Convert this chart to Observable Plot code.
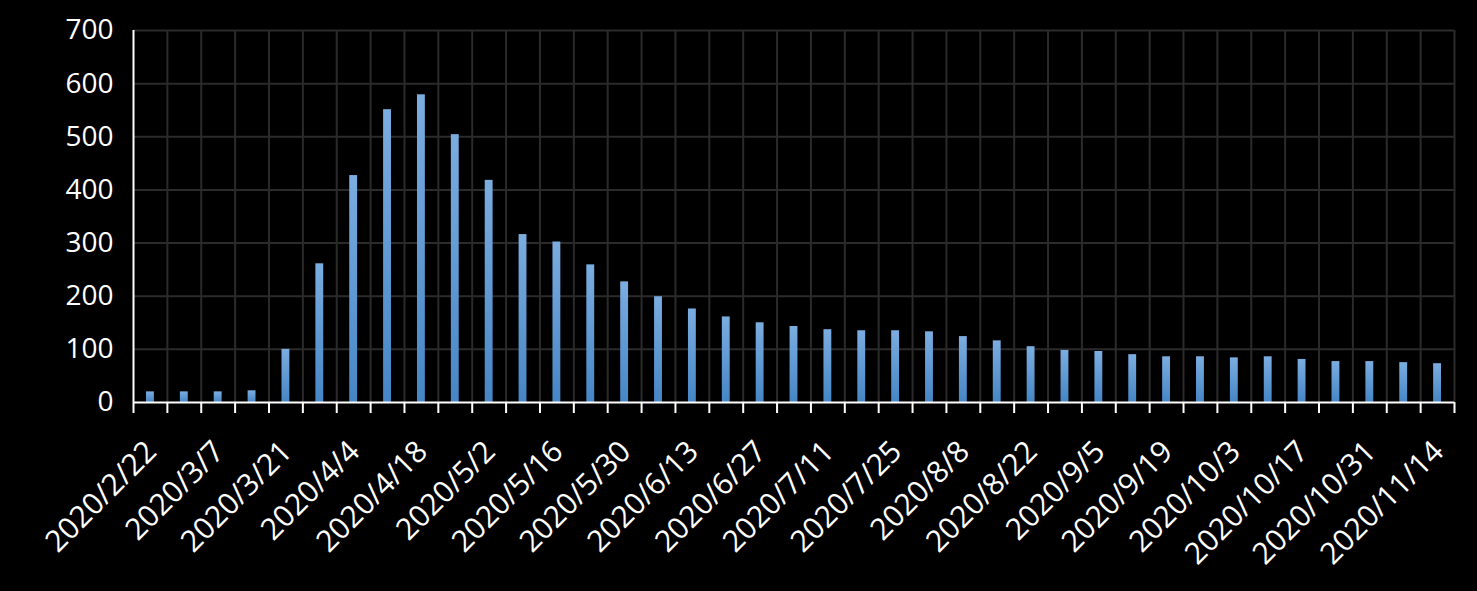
<!DOCTYPE html>
<html>
<head>
<meta charset="utf-8">
<script src="https://cdn.jsdelivr.net/npm/d3@7"></script>
<script src="https://cdn.jsdelivr.net/npm/@observablehq/plot@0.6"></script>
<style>
  html, body { margin: 0; padding: 0; background: #000; }
  #chart svg { display: block; }
</style>
</head>
<body>
<div id="chart"></div>
<script>
const weeks = [
  "2020/2/22","2020/2/29","2020/3/7","2020/3/14","2020/3/21","2020/3/28",
  "2020/4/4","2020/4/11","2020/4/18","2020/4/25","2020/5/2","2020/5/9",
  "2020/5/16","2020/5/23","2020/5/30","2020/6/6","2020/6/13","2020/6/20",
  "2020/6/27","2020/7/4","2020/7/11","2020/7/18","2020/7/25","2020/8/1",
  "2020/8/8","2020/8/15","2020/8/22","2020/8/29","2020/9/5","2020/9/12",
  "2020/9/19","2020/9/26","2020/10/3","2020/10/10","2020/10/17","2020/10/24",
  "2020/10/31","2020/11/7","2020/11/14"
];
const values = [
  20, 20, 20, 22, 100, 261,
  427, 551, 579, 504, 418, 316,
  302, 259, 227, 199, 176, 161,
  150, 143, 137, 135, 135, 133,
  124, 116, 105, 98, 96, 90,
  86, 86, 84, 86, 81, 77,
  77, 75, 73
];
const tickLabels = [
  "2020/2/22","2020/3/7","2020/3/21","2020/4/4","2020/4/18","2020/5/2",
  "2020/5/16","2020/5/30","2020/6/13","2020/6/27","2020/7/11","2020/7/25",
  "2020/8/8","2020/8/22","2020/9/5","2020/9/19","2020/10/3","2020/10/17",
  "2020/10/31","2020/11/14"
];
const yTicks = [0, 100, 200, 300, 400, 500, 600, 700];

const data = weeks.map((w, i) => ({week: w, i, value: values[i]}));
const labelPos = tickLabels.map(l => weeks.indexOf(l) + 0.5);
const boundaries = d3.range(weeks.length + 1);

function gradientDefs() {
  const ns = "http://www.w3.org/2000/svg";
  const defs = document.createElementNS(ns, "defs");
  const g = document.createElementNS(ns, "linearGradient");
  g.setAttribute("id", "barGrad");
  g.setAttribute("x1", "0"); g.setAttribute("y1", "0");
  g.setAttribute("x2", "0"); g.setAttribute("y2", "1");
  [["0%", "#7badE0"], ["100%", "#4686c6"]].forEach(([o, c]) => {
    const s = document.createElementNS(ns, "stop");
    s.setAttribute("offset", o);
    s.setAttribute("stop-color", c);
    g.appendChild(s);
  });
  defs.appendChild(g);
  return defs;
}

const chart = Plot.plot({
  width: 1477,
  height: 591,
  marginLeft: 133,
  marginRight: 23,
  marginTop: 30,
  marginBottom: 189,
  style: {background: "#000", color: "#fff", fontFamily: "'Open Sans', sans-serif", fontSize: "28px"},
  x: {type: "linear", domain: [0, weeks.length], axis: null},
  y: {domain: [0, 700], axis: null},
  marks: [
    gradientDefs,
    Plot.ruleY(yTicks.filter(d => d > 0), {stroke: "#2b2b2b", strokeWidth: 2}),
    Plot.ruleX(boundaries.filter(d => d > 0), {stroke: "#2b2b2b", strokeWidth: 2}),
    Plot.rectY(data, {x1: "i", x2: d => d.i + 1, y: "value", fill: "url(#barGrad)", insetLeft: 13, insetRight: 13}),
    Plot.axisY({ticks: yTicks, tickSize: 0, tickPadding: 20, fontSize: 28, color: "#fff", label: null}),
    Plot.ruleX([0], {stroke: "#fff", strokeWidth: 2}),
    Plot.ruleY([0], {stroke: "#fff", strokeWidth: 2}),
    Plot.axisX({ticks: boundaries, tickSize: 11, tickFormat: () => "", stroke: "#fff", strokeWidth: 2, label: null}),
    Plot.axisX({ticks: labelPos, tickSize: 0, tickPadding: 44, tickRotate: -45, dx: 1, label: null,
      tickFormat: d => weeks[Math.round(d - 0.5)], fontSize: 30, color: "#fff"})
  ]
});
document.getElementById("chart").appendChild(chart);
</script>
</body>
</html>
